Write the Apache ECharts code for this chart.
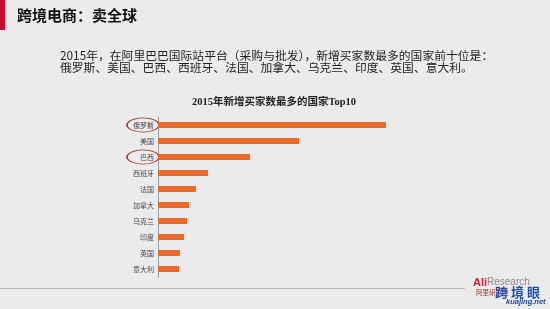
<!DOCTYPE html>
<html><head><meta charset="utf-8">
<script src="https://cdn.jsdelivr.net/npm/echarts@6/dist/echarts.min.js"></script>
<style>html,body{margin:0;padding:0;background:#ebebeb;}#c{width:550px;height:309px;}</style>
</head><body><div id="c"></div>
<script>
var categories = ['俄罗斯','美国','巴西','西班牙','法国','加拿大','乌克兰','印度','英国','意大利'];
var values = [228,141,92,50,38,31,29,26,22,21];
var circled = ['俄罗斯','巴西'];
var pageTitle = '跨境电商：卖全球';
var line1 = '2015年，在阿里巴巴国际站平台（采购与批发），新增买家数最多的国家前十位是：';
var line2 = '俄罗斯、美国、巴西、西班牙、法国、加拿大、乌克兰、印度、英国、意大利。';
var chartTitle = '2015年新增买家数最多的国家Top10';

var chart = echarts.init(document.getElementById('c'));
var cjk = '"Noto Sans CJK SC", sans-serif';
var baseGraphic = [
  {type:'rect', shape:{x:0,y:0,width:5,height:30}, style:{fill:'#c8102e'}},
  {type:'text', x:17, y:15, style:{text:pageTitle, font:'bold 15px '+cjk, fill:'#111', textVerticalAlign:'middle'}},
  {type:'text', x:60, y:56, style:{text:line1, font:'11.8px '+cjk, fill:'#222', textVerticalAlign:'middle'}},
  {type:'text', x:60, y:68, style:{text:line2, font:'11.8px '+cjk, fill:'#222', textVerticalAlign:'middle'}},
  {type:'line', shape:{x1:0,y1:288.5,x2:465,y2:288.5}, style:{stroke:'#b8b8b8', lineWidth:1}},
  {type:'text', x:473, y:283, style:{text:'Ali', font:'bold 11px Arial, sans-serif', fill:'#d21f26', textVerticalAlign:'middle'}},
  {type:'text', x:487, y:282, style:{text:'Research', font:'10px Arial, sans-serif', fill:'#888', textVerticalAlign:'middle'}},
  {type:'text', x:476, y:293, style:{text:'阿里研究院', font:'6.5px '+cjk, fill:'#a33', textVerticalAlign:'middle'}},
  {type:'text', x:495, y:292, style:{text:'跨 境 眼', font:'bold 13px '+cjk, fill:'#1b4fa8', textVerticalAlign:'middle'}},
  {type:'text', x:506, y:302, style:{text:'kuajing.net', font:'italic bold 7.5px Arial, sans-serif', fill:'#1b4fa8', textVerticalAlign:'middle'}}
];
chart.setOption({
  backgroundColor:'#ebebeb',
  animation:false,
  title:{text:chartTitle, left:269, top:92, textAlign:'center',
    textStyle:{fontSize:10.5, fontWeight:'bold', color:'#222', fontFamily:'"Liberation Serif", "Noto Sans CJK SC", serif'}},
  grid:{left:158, top:117, width:228, height:160},
  xAxis:{type:'value', min:0, max:228, show:false},
  yAxis:{type:'category', data:categories, inverse:true,
    axisLine:{show:true, lineStyle:{color:'#999', width:1}},
    axisTick:{show:false},
    axisLabel:{fontSize:7, color:'#444', margin:4, fontFamily:cjk}},
  series:[{type:'bar', data:values, barWidth:6, itemStyle:{color:'#ea6a2a'}, silent:true}],
  graphic: baseGraphic
});
var extra = circled.map(function(c){
  var y = chart.convertToPixel({yAxisIndex:0}, c);
  return {type:'circle', x:143, y:y, scaleY:0.44, shape:{cx:0, cy:0, r:16},
    style:{fill:'none', stroke:'#a52a2e', lineWidth:1.6}};
});
chart.setOption({graphic: baseGraphic.concat(extra)});
</script></body></html>
